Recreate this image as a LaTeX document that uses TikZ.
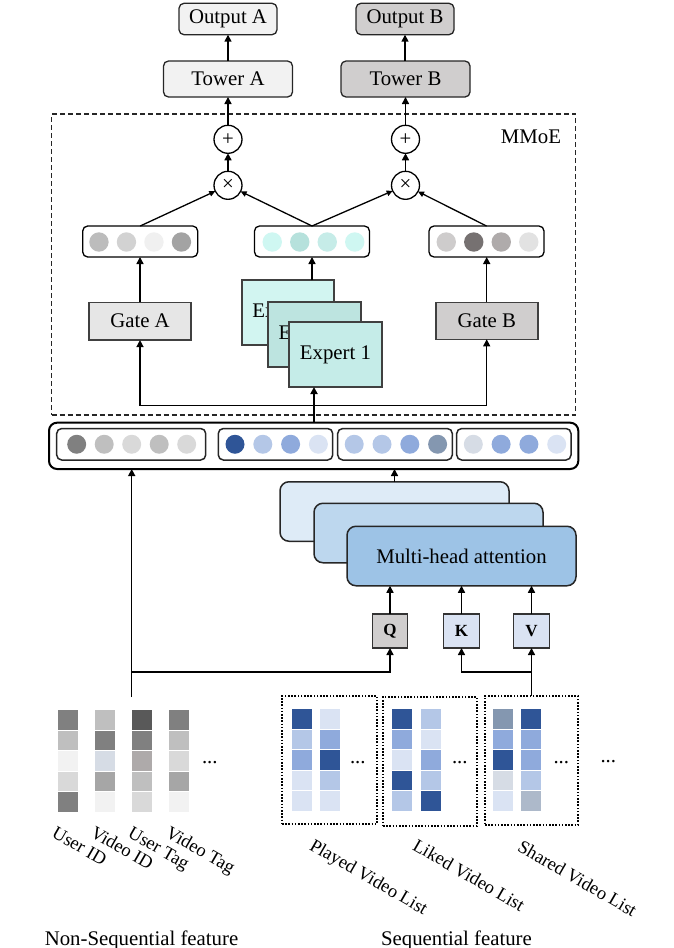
\documentclass[tikz,border=0pt]{standalone}
\usepackage{fontspec}
\setmainfont{Liberation Serif}
\usetikzlibrary{arrows.meta,calc}
\definecolor{cOA}{HTML}{F2F2F2}
\definecolor{cOB}{HTML}{D0CECE}
\definecolor{cGA}{HTML}{E6E6E6}
\definecolor{cE3}{HTML}{D2F5F1}
\definecolor{cE2}{HTML}{BDE4E0}
\definecolor{cE1}{HTML}{C5ECE8}
\definecolor{cAt3}{HTML}{DEEBF7}
\definecolor{cAt2}{HTML}{BDD7EE}
\definecolor{cAt1}{HTML}{9DC3E6}
\definecolor{dB}{HTML}{2F5597}
\definecolor{mB}{HTML}{8FAADC}
\definecolor{lB}{HTML}{B4C7E7}
\definecolor{vB}{HTML}{DAE3F3}
\definecolor{sB}{HTML}{8497B0}
\definecolor{pB}{HTML}{D6DCE5}
\definecolor{qB}{HTML}{ADB9CA}
\definecolor{G1}{HTML}{595959}
\definecolor{G2}{HTML}{808080}
\definecolor{G3}{HTML}{A6A6A6}
\definecolor{G4}{HTML}{BFBFBF}
\definecolor{G5}{HTML}{D9D9D9}
\definecolor{G6}{HTML}{F2F2F2}
\definecolor{G7}{HTML}{AEAAAA}
\definecolor{vL1}{HTML}{BCBCBC}
\definecolor{vL2}{HTML}{D2D2D2}
\definecolor{vL3}{HTML}{F0F0F0}
\definecolor{vL4}{HTML}{A3A3A3}
\definecolor{vM1}{HTML}{CFF7F2}
\definecolor{vM2}{HTML}{B6E1DC}
\definecolor{vM3}{HTML}{C6ECE8}
\definecolor{vR1}{HTML}{CECCCC}
\definecolor{vR2}{HTML}{767171}
\definecolor{vR3}{HTML}{AFABAB}
\definecolor{vR4}{HTML}{E2E2E2}
\newcommand\mainsz{\fontsize{20.8pt}{25pt}\selectfont}
\newcommand\lblsz{\fontsize{18.5pt}{22pt}\selectfont}
\newcommand\qkvsz{\fontsize{17pt}{20pt}\selectfont\bfseries}
\newcommand\mkcol[3]{\foreach \c [count=\i from 0] in {#3} \fill[\c] (#1,{#2+\i*20.6}) rectangle ++(19.5,19.6);}
\begin{document}
\begin{tikzpicture}[x=1pt,y=-1pt,
  every node/.style={inner sep=0pt, outer sep=0pt},
  bx/.style={draw=black!85, line width=1.3pt, font=\mainsz},
  rbx/.style={bx, rounded corners=5pt},
  gbx/.style={draw=black!75, line width=1.6pt, font=\mainsz},
  circ/.style={circle, draw=black, line width=1.3pt, fill=white, minimum size=28pt, font=\mainsz},
  vec/.style={draw=black, line width=1.3pt, rounded corners=5pt, fill=white, minimum width=115pt, minimum height=31pt},
  inbox/.style={draw=black!85, line width=1.5pt, rounded corners=5pt, minimum height=31.5pt},
  att/.style={draw=black!85, line width=1.5pt, rounded corners=9pt, minimum width=229pt, minimum height=59.5pt, font=\mainsz},
  qkv/.style={draw=black!80, line width=1.3pt, minimum width=35.5pt, minimum height=34pt, font=\qkvsz},
  dotbox/.style={draw=black, line width=2pt, dash pattern=on 1.6pt off 1.6pt},
  rot/.style={rotate=-30, anchor=north west, font=\lblsz},
  arr/.style={-{Triangle[length=7pt,width=7pt]}, line width=1.5pt},
  sarr/.style={-{Triangle[length=6pt,width=5.5pt]}, line width=1.3pt},
  thick arr/.style={-{Triangle[length=7pt,width=7pt]}, line width=2pt}
]
\useasboundingbox (0,0) rectangle (673,948);

% MMoE dashed region
\node[draw=black!85, line width=1.2pt, dash pattern=on 5pt off 3pt, minimum width=524pt, minimum height=301pt] (mmoe) at (313.5,264.5) {};
\node[anchor=base east, font=\mainsz] (mmoelbl) at (561,143) {MMoE};

% outputs and towers
\node[rbx, fill=cOA, minimum width=98pt, minimum height=31.4pt] (outA) at (228,19) {Output A};
\node[rbx, fill=cOB, minimum width=98pt, minimum height=31.4pt] (outB) at (405,19) {Output B};
\node[rbx, fill=cOA, minimum width=129pt, minimum height=36pt] (towA) at (228,79) {Tower A};
\node[rbx, fill=cOB, minimum width=129pt, minimum height=36pt] (towB) at (405.5,79) {Tower B};

% plus / times
\node[circ] (plusA) at (228,139.3) {+};
\node[circ] (plusB) at (405.5,139.3) {+};
\node[circ] (timesA) at (228,185.3) {×};
\node[circ] (timesB) at (405.5,185.3) {×};

% gate/expert output vectors
\node[vec] (vecL) at (140.2,241.5) {};
\node[vec] (vecM) at (312,241.5) {};
\node[vec] (vecR) at (486.5,241.5) {};
\foreach \c [count=\i] in {vL1,vL2,vL3,vL4} \fill[\c] ({140.2+(\i-2.5)*27.5},242) circle[radius=9.7];
\foreach \c [count=\i] in {vM1,vM2,vM3,vM1} \fill[\c] ({313.5+(\i-2.5)*27.5},242) circle[radius=9.7];
\foreach \c [count=\i] in {vR1,vR2,vR3,vR4} \fill[\c] ({487.5+(\i-2.5)*27.5},242) circle[radius=9.7];

% gates
\node[gbx, fill=cGA, minimum width=102pt, minimum height=37.7pt] (gateA) at (140,321.2) {Gate A};
\node[gbx, fill=cOB, minimum width=102pt, minimum height=37pt] (gateB) at (486.7,320.8) {Gate B};

% experts
\node[gbx, fill=cE3, minimum width=92.3pt, minimum height=65pt] (expC) at (287.85,312.5) {Expert 3};
\node[gbx, fill=cE2, minimum width=93pt, minimum height=64.7pt] (expB) at (314.2,334.35) {Expert 2};
\node[gbx, fill=cE1, minimum width=93pt, minimum height=65.3pt] (expA) at (335.5,354.35) {Expert 1};

% feature bar
\node[draw=black, line width=2pt, rounded corners=8pt, minimum width=529.3pt, minimum height=46.3pt] (bar) at (313.65,445.85) {};
\node[inbox, minimum width=149pt] (seg1) at (131.2,444.25) {};
\node[inbox, minimum width=114.4pt] (seg2) at (275.5,444.25) {};
\node[inbox, minimum width=114.6pt] (seg3) at (395,444.25) {};
\node[inbox, minimum width=114.3pt] (seg4) at (513.85,444.25) {};
\foreach \c [count=\i] in {G2,G4,G5,G4,G5} \fill[\c] ({131.7+(\i-3)*27.5},444.25) circle[radius=9.5];
\foreach \c [count=\i] in {dB,lB,mB,vB} \fill[\c] ({276.7+(\i-2.5)*27.8},444.25) circle[radius=9.5];
\foreach \c [count=\i] in {lB,lB,mB,sB} \fill[\c] ({395.9+(\i-2.5)*27.8},444.25) circle[radius=9.5];
\foreach \c [count=\i] in {pB,mB,mB,vB} \fill[\c] ({515+(\i-2.5)*27.8},444.25) circle[radius=9.5];

% attention stack
\node[att, fill=cAt3] (attC) at (394.5,511.5) {};
\node[att, fill=cAt2] (attB) at (428.5,533) {};
\node[att, fill=cAt1] (attA) at (461.5,556) {Multi-head attention};

% Q K V
\node[qkv, fill=cOB] (Q) at (390,631) {Q};
\node[qkv, fill=vB] (K) at (461.5,631) {K};
\node[qkv, fill=vB] (V) at (531.5,631) {V};

% non-sequential features
\mkcol{58}{710}{G2,G4,G6,G5,G2}
\mkcol{95}{710}{G4,G2,pB,G3,G6}
\mkcol{132}{710}{G1,G2,G7,G4,G5}
\mkcol{169}{710}{G2,G4,G5,G3,G6}
\node[anchor=base west, font=\mainsz] (dots0) at (202,763) {...};
\node[rot] (lUID) at (57,826) {User ID};
\node[rot] (lVID) at (96,825) {Video ID};
\node[rot] (lUTag) at (133,826) {User Tag};
\node[rot] (lVTag) at (171,825) {Video Tag};
\node[anchor=base, font=\mainsz] (nsf) at (141.5,945) {Non-Sequential feature};

% sequential features
\node[dotbox, minimum width=95pt, minimum height=128pt] (seqA) at (329.5,760) {};
\node[dotbox, minimum width=94pt, minimum height=129pt] (seqB) at (430,761.5) {};
\node[dotbox, minimum width=93pt, minimum height=129pt] (seqC) at (531.5,760.5) {};
\mkcol{292}{709}{dB,lB,mB,vB,vB}
\mkcol{320}{709}{vB,mB,dB,lB,vB}
\mkcol{392}{709}{dB,mB,vB,dB,lB}
\mkcol{421}{709}{lB,vB,mB,lB,dB}
\mkcol{493}{709}{sB,mB,dB,pB,vB}
\mkcol{521}{709}{dB,mB,mB,lB,qB}
\node[anchor=base west, font=\mainsz] (dots1) at (350,763) {...};
\node[anchor=base west, font=\mainsz] (dots2) at (452,763) {...};
\node[anchor=base west, font=\mainsz] (dots3) at (553.5,763) {...};
\node[anchor=base west, font=\mainsz] (dots4) at (600.5,762) {...};
\node[rot] (lPlay) at (315,838) {Played Video List};
\node[rot] (lLike) at (418,838) {Liked Video List};
\node[rot] (lShare) at (523,839.5) {Shared Video List};
\node[anchor=base, font=\mainsz] (sf) at (456.5,945) {Sequential feature};

% connectors: top part
\draw[arr] (outA |- towA.north) -- (outA.south);
\draw[arr] (outB |- towB.north) -- (outB.south);
\draw[arr] (plusA.north) -- (towA.south);
\draw[arr] (plusB.north) -- (towB.south);
\draw[arr] (timesA.north) -- (plusA.south);
\draw[arr] (timesB.north) -- (plusB.south);
\draw[sarr] (vecL.north) -- (timesA);
\draw[sarr] (vecM.north) -- (timesA);
\draw[sarr] (vecM.north) -- (timesB);
\draw[sarr] (vecR.north) -- (timesB);
\draw[arr] (gateA.north) -- (gateA.north |- vecL.south);
\draw[arr] (gateB.north) -- (gateB.north |- vecR.south);
\draw[arr] (vecM.south |- expC.north) -- (vecM.south);

% bar to experts and gates
\coordinate (junc) at (314,405.5);
\draw[thick arr] (bar.north -| junc) -- (junc |- expA.south);
\draw[arr, line width=1.3pt] (junc) -| (gateA.south);
\draw[arr, line width=1.3pt] (junc) -| (gateB.south);

% attention to bar
\draw[arr] (attC.north) -- (attC.north |- bar.south);
\draw[arr] (Q.north) -- (Q.north |- attA.south);
\draw[arr] (K.north) -- (K.north |- attA.south);
\draw[arr] (V.north) -- (V.north |- attA.south);

% features to bar / QKV
\coordinate (nsTop) at (131.7,697);
\coordinate (nsJ) at (131.7,672);
\draw[arr] (nsTop) -- (nsTop |- bar.south);
\draw[arr] (nsJ) -| (Q.south);
\coordinate (vJ) at (531.5,672);
\draw[arr] (seqC.north) -- (V.south);
\draw[arr] (vJ) -| (K.south);
\end{tikzpicture}
\end{document}
